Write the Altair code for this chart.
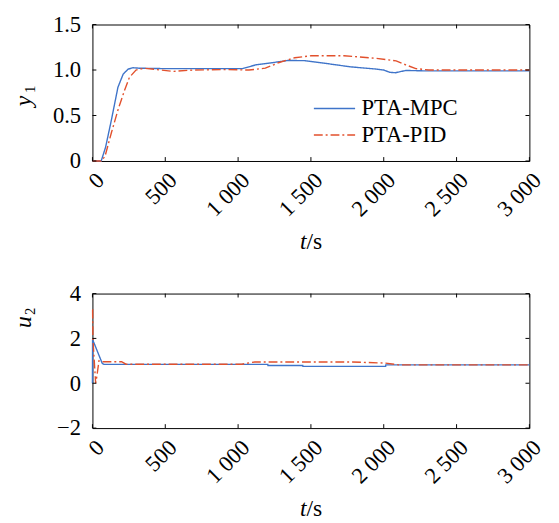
import altair as alt
import pandas as pd

# ---------------- data ----------------
x_ticks = [0, 500, 1000, 1500, 2000, 2500, 3000]
y1_ticks = [0, 0.5, 1.0, 1.5]
u2_ticks = [-2, 0, 2, 4]
series_names = ["PTA-MPC", "PTA-PID"]

t_y1_mpc = [0, 60, 90, 130, 175, 211, 245, 279, 320, 500, 800, 1030, 1120, 1232,
            1344, 1456, 1614, 1771, 1950, 2000, 2040, 2080, 2107, 2152, 2300, 3000]
y1_mpc = [0, 0, 0.15, 0.45, 0.81, 0.955, 1.01, 1.025, 1.02, 1.015, 1.015, 1.015, 1.056, 1.08,
          1.105, 1.103, 1.07, 1.035, 1.01, 1.0, 0.975, 0.97, 0.98, 0.995, 0.99, 0.99]

t_y1_pid = [0, 60, 86, 130, 175, 220, 254, 299, 355, 468, 558, 693, 918, 1075, 1187,
            1277, 1389, 1502, 1726, 1950, 2085, 2152, 2220, 2310, 3000]
y1_pid = [0, 0, 0.05, 0.31, 0.56, 0.775, 0.92, 1.0, 1.02, 1.0, 0.985, 1.0, 1.005, 1.0, 1.02,
          1.08, 1.135, 1.157, 1.157, 1.128, 1.10, 1.056, 1.016, 1.0, 1.0]

t_u2_mpc = [0, 1, 3, 67, 80, 1204, 1205, 1444, 1445, 2013, 2014, 3000]
u2_mpc = [0, 1.92, 1.92, 0.89, 0.84, 0.84, 0.79, 0.79, 0.75, 0.75, 0.82, 0.82]

t_u2_pid = [0, 1, 3, 22, 30, 45, 60, 200, 230, 1025, 1115, 1766, 2013, 2103, 3000]
u2_pid = [3.28, 3.28, 2.0, 0.0, 0.3, 1.0, 0.96, 0.96, 0.85, 0.85, 0.95, 0.95, 0.9, 0.82, 0.82]

# ---------------- styling ----------------
FONT = "Times New Roman, Liberation Serif, serif"
BLUE = "#3f74c9"
RED = "#e2502c"
W = 445
H1 = 139
H2 = 137
TICK = 4


def frame_df(ts, vs, name):
    return pd.DataFrame({"t": ts, "v": vs, "s": name, "i": range(len(ts))})


df_y1 = pd.concat([frame_df(t_y1_mpc, y1_mpc, series_names[0]),
                   frame_df(t_y1_pid, y1_pid, series_names[1])])
df_u2 = pd.concat([frame_df(t_u2_mpc, u2_mpc, series_names[0]),
                   frame_df(t_u2_pid, u2_pid, series_names[1])])

x_label_expr = "replace(format(datum.value, ','), ',', ' ')"


def panel(df, y_dom, y_ticks, y_label_expr, height, ylab, ysub, ytitle_y, ysub_y, show_legend):
    xs = alt.Scale(domain=[0, 3000], nice=False, zero=False)
    ys = alt.Scale(domain=y_dom, nice=False, zero=False)
    xax = alt.Axis(values=x_ticks, labelExpr=x_label_expr, labelAngle=315, labelAlign="right",
                   labelBaseline="top", labelPadding=8, ticks=False, tickSize=0, domain=False,
                   grid=False, title=None, labelFont=FONT, labelFontSize=23, labelColor="black")
    yax = alt.Axis(values=y_ticks, labelExpr=y_label_expr, labelPadding=12, ticks=False,
                   tickSize=0, domain=False, grid=False, title=None, labelFont=FONT,
                   labelFontSize=23, labelColor="black")

    legend = alt.Legend(orient="none", legendX=235, legendY=74, title=None,
                        symbolType="M-2.1,0H2.1", symbolSize=400, symbolStrokeWidth=1.5,
                        labelFont=FONT, labelFontSize=23, labelOffset=16, padding=0,
                        rowPadding=3, labelLimit=300, labelColor="black") if show_legend else None

    lines = alt.Chart(df).mark_line(strokeWidth=1.4, interpolate="linear").encode(
        x=alt.X("t:Q", scale=xs, axis=xax),
        y=alt.Y("v:Q", scale=ys, axis=yax),
        color=alt.Color("s:N", scale=alt.Scale(domain=series_names, range=[BLUE, RED]), legend=legend),
        strokeDash=alt.StrokeDash("s:N", scale=alt.Scale(domain=series_names, range=[[1, 0], [9, 3, 2, 3]]),
                                  legend=legend),
        order="i:Q",
    )

    xt = pd.DataFrame({"t": x_ticks})
    yt = pd.DataFrame({"v": y_ticks})
    tick_b = alt.Chart(xt).mark_rule(color="black", strokeWidth=1).encode(
        x=alt.X("t:Q", scale=xs), y=alt.value(height), y2=alt.value(height - TICK))
    tick_t = alt.Chart(xt).mark_rule(color="black", strokeWidth=1).encode(
        x=alt.X("t:Q", scale=xs), y=alt.value(0), y2=alt.value(TICK))
    tick_l = alt.Chart(yt).mark_rule(color="black", strokeWidth=1).encode(
        y=alt.Y("v:Q", scale=ys), x=alt.value(0), x2=alt.value(TICK))
    tick_r = alt.Chart(yt).mark_rule(color="black", strokeWidth=1).encode(
        y=alt.Y("v:Q", scale=ys), x=alt.value(W), x2=alt.value(W - TICK))

    one = pd.DataFrame({"a": [0]})
    t_it = alt.Chart(one).mark_text(font=FONT, fontSize=24, fontStyle="italic", align="right",
                                    baseline="alphabetic", color="black").encode(
        text=alt.value("t"), x=alt.value(218), y=alt.value(height + 90))
    t_s = alt.Chart(one).mark_text(font=FONT, fontSize=24, align="left",
                                   baseline="alphabetic", color="black").encode(
        text=alt.value("/s"), x=alt.value(218), y=alt.value(height + 90))
    y_main = alt.Chart(one).mark_text(font=FONT, fontSize=24, fontStyle="italic", angle=270,
                                      align="center", baseline="middle", color="black").encode(
        text=alt.value(ylab), x=alt.value(-70), y=alt.value(ytitle_y))
    y_sub = alt.Chart(one).mark_text(font=FONT, fontSize=15, angle=270,
                                     align="center", baseline="middle", color="black").encode(
        text=alt.value(ysub), x=alt.value(-64), y=alt.value(ysub_y))

    return alt.layer(lines, tick_b, tick_t, tick_l, tick_r, t_it, t_s, y_main, y_sub).properties(
        width=W, height=height)


top = panel(df_y1, [0, 1.5], y1_ticks,
            "datum.value == 0 ? '0' : format(datum.value, '.1f')", H1, "y", "1", 78, 66, True)
bottom = panel(df_u2, [-2, 4], u2_ticks,
               "datum.value < 0 ? '\u2212' + format(-datum.value, 'd') : format(datum.value, 'd')",
               H2, "u", "2", 29, 18, False)

chart = alt.vconcat(top, bottom, spacing=27).resolve_scale(
    color="independent", strokeDash="independent"
).properties(
    padding={"left": 3, "top": 0, "right": 5, "bottom": 5}
).configure(
    font=FONT
).configure_view(
    stroke="black", strokeWidth=1
).configure_axis(
    labelFont=FONT, labelFontSize=23, labelColor="black"
)

chart.save("out.html", embed_options={"renderer": "svg", "actions": False})
